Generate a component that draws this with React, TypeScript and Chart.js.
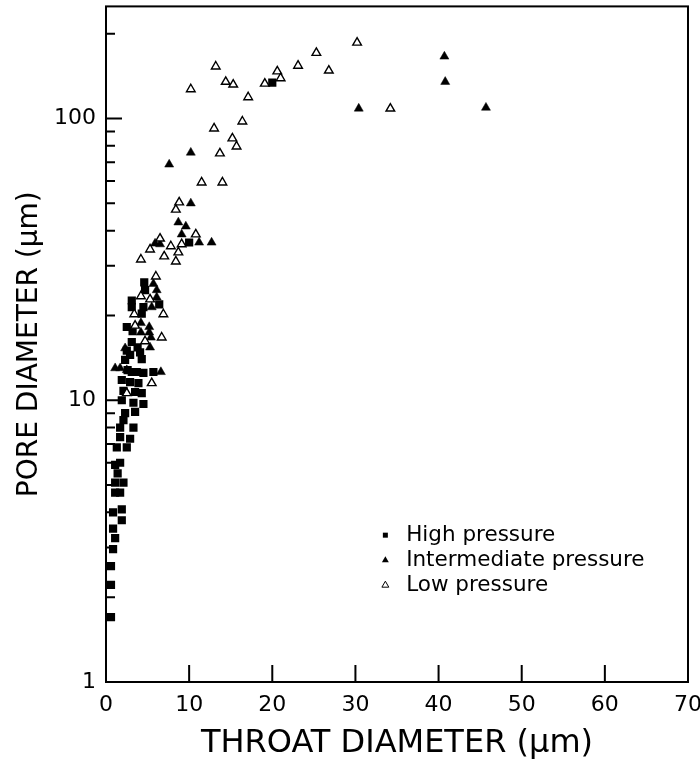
import React, { useEffect, useRef } from 'react';
import { Chart, registerables } from 'chart.js';

Chart.register(...registerables);

// High pressure (filled squares)
const highX = [20.0, 10.0, 4.6, 4.7, 3.1, 3.1, 4.5, 6.4, 4.3, 2.5, 3.2, 3.1, 3.8, 4.1, 2.9, 4.3, 2.3, 2.5, 3.1, 4.5, 5.7, 2.6, 3.7, 1.9, 2.9, 3.9, 2.1, 3.5, 4.3, 1.9, 3.3, 4.5, 2.3, 3.5, 2.1, 1.7, 3.3, 1.7, 2.9, 1.3, 2.5, 1.7, 1.1, 1.4, 2.1, 1.1, 1.7, 1.1, 0.85, 1.9, 1.9, 0.85, 1.1, 0.85, 0.6, 0.6, 0.6];
const highY = [134, 36.3, 26.2, 24.6, 22.6, 21.4, 21.4, 21.9, 20.3, 18.2, 17.6, 16.1, 15.4, 14.8, 14.5, 14.0, 13.9, 15.0, 12.6, 12.5, 12.6, 12.8, 12.6, 11.8, 11.6, 11.5, 10.8, 10.7, 10.6, 10.0, 9.8, 9.7, 9.0, 9.1, 8.5, 8.0, 8.0, 7.4, 7.3, 6.8, 6.8, 6.0, 5.9, 5.5, 5.1, 5.1, 4.7, 4.7, 4.0, 4.1, 3.75, 3.5, 3.24, 2.96, 2.58, 2.21, 1.7];

// Intermediate pressure (filled triangles)
const interX = [40.7, 40.8, 30.4, 45.7, 10.2, 7.6, 10.2, 8.7, 9.6, 9.1, 5.9, 6.5, 11.2, 12.7, 5.7, 6.1, 6.1, 5.5, 4.2, 5.2, 5.2, 5.4, 5.3, 2.3, 1.1, 1.7, 2.5, 6.6, 4.2];
const interY = [166, 135, 108.5, 109.3, 75.7, 68.7, 50.0, 42.8, 41.4, 38.8, 36.0, 35.8, 36.3, 36.3, 25.9, 24.6, 23.2, 21.4, 18.8, 18.2, 17.4, 16.7, 15.4, 15.3, 13.0, 13.0, 12.8, 12.6, 17.4];

// Low pressure (open triangles)
const lowX = [13.2, 14.4, 15.3, 10.2, 17.1, 19.1, 20.6, 21.0, 23.1, 25.3, 26.8, 30.2, 34.2, 16.4, 13.0, 15.2, 15.7, 13.7, 11.5, 14.0, 8.8, 8.4, 10.8, 6.5, 5.3, 7.8, 9.1, 8.7, 7.0, 8.4, 4.2, 6.0, 4.2, 5.3, 3.4, 6.9, 3.5, 4.7, 6.7, 5.5, 2.5];
const lowY = [153, 135, 132, 127, 119, 133, 147, 139, 154, 171, 148, 186, 108.5, 97.6, 92.2, 85, 79.6, 75.2, 59.3, 59.3, 50.4, 47.5, 38.8, 37.5, 34.3, 35.2, 35.8, 33.5, 32.4, 31.1, 31.6, 27.5, 23.4, 22.8, 20.2, 20.2, 18.4, 16.2, 16.7, 11.5, 10.6];

const xTickValues = [0, 10, 20, 30, 40, 50, 60, 70];
const yTickValues = [1, 2, 3, 4, 5, 6, 7, 8, 9, 10, 20, 30, 40, 50, 60, 70, 80, 90, 100, 200];
const yLabelValues = [1, 10, 100];
const legendLabels = ['High pressure', 'Intermediate pressure', 'Low pressure'];

const FONT = '"DejaVu Sans", "Liberation Sans", sans-serif';

function pts(xs: number[], ys: number[]) {
  return xs.map((x, i) => ({ x, y: ys[i] }));
}

function tri(ctx: CanvasRenderingContext2D, cx: number, cy: number, r: number) {
  ctx.beginPath();
  ctx.moveTo(cx, cy - r);
  ctx.lineTo(cx + r * 0.866, cy + r * 0.5);
  ctx.lineTo(cx - r * 0.866, cy + r * 0.5);
  ctx.closePath();
}

const frameTicks = {
  id: 'frameTicks',
  afterDraw(chart: any) {
    const { ctx, chartArea, scales } = chart;
    const { left, right, top, bottom } = chartArea;
    const x = scales.x;
    const y = scales.y;
    ctx.save();
    ctx.strokeStyle = '#000';
    ctx.lineWidth = 2;
    ctx.strokeRect(left, top, right - left, bottom - top);
    ctx.beginPath();
    for (const v of xTickValues) {
      if (v === xTickValues[0] || v === xTickValues[xTickValues.length - 1]) continue;
      const px = x.getPixelForValue(v);
      ctx.moveTo(px, bottom);
      ctx.lineTo(px, bottom - 17);
    }
    for (const v of yTickValues) {
      const py = y.getPixelForValue(v);
      const len = yLabelValues.includes(v) ? 16 : 9;
      ctx.moveTo(left, py);
      ctx.lineTo(left + len, py);
    }
    ctx.stroke();

    // legend inside plot area
    const mx = x.getPixelForValue(33.6);
    const tx = x.getPixelForValue(36.1);
    const baseY = y.getPixelForValue(3.32);
    const step = 25;
    ctx.font = '21.5px ' + FONT;
    ctx.fillStyle = '#000';
    ctx.textBaseline = 'middle';
    ctx.textAlign = 'left';
    legendLabels.forEach((lab, i) => {
      const cy = baseY + i * step;
      if (i === 0) {
        ctx.fillRect(mx - 2.5, cy - 2.5, 5, 5);
      } else if (i === 1) {
        tri(ctx, mx, cy, 4);
        ctx.fill();
      } else {
        tri(ctx, mx, cy, 4);
        ctx.lineWidth = 1;
        ctx.stroke();
      }
      ctx.fillText(lab, tx, cy);
    });
    ctx.restore();
  },
};

export default function App() {
  const ref = useRef<HTMLCanvasElement | null>(null);
  useEffect(() => {
    if (!ref.current) return;
    const chart = new Chart(ref.current, {
      type: 'scatter',
      data: {
        datasets: [
          {
            label: legendLabels[2],
            data: pts(lowX, lowY),
            pointStyle: 'triangle',
            pointRadius: 5,
            backgroundColor: '#fff',
            borderColor: '#000',
            borderWidth: 1.4,
          },
          {
            label: legendLabels[0],
            data: pts(highX, highY),
            pointStyle: 'rect',
            pointRadius: 5.8,
            backgroundColor: '#000',
            borderColor: '#000',
            borderWidth: 0,
          },
          {
            label: legendLabels[1],
            data: pts(interX, interY),
            pointStyle: 'triangle',
            pointRadius: 5.2,
            backgroundColor: '#000',
            borderColor: '#000',
            borderWidth: 0.5,
          },
        ],
      },
      options: {
        responsive: false,
        animation: false,
        layout: { padding: { left: 0, right: 12, top: 5, bottom: 0 } },
        plugins: {
          legend: { display: false },
          tooltip: { enabled: false },
        },
        scales: {
          x: {
            type: 'linear',
            min: 0,
            max: 70,
            afterBuildTicks: (s: any) => {
              s.ticks = xTickValues.map((v) => ({ value: v }));
            },
            afterFit: (s: any) => {
              s.height = 81;
              s.paddingLeft = 0;
              s.paddingRight = 0;
            },
            grid: { display: false, drawTicks: false },
            border: { display: false },
            ticks: {
              autoSkip: false,
              maxRotation: 0,
              padding: 10,
              color: '#000',
              font: { family: FONT, size: 22 },
            },
            title: {
              display: true,
              text: 'THROAT DIAMETER (μm)',
              color: '#000',
              font: { family: FONT, size: 32 },
              padding: { top: 0, bottom: 0 },
            },
          },
          y: {
            type: 'logarithmic',
            min: 1,
            max: 250,
            afterBuildTicks: (s: any) => {
              s.ticks = yTickValues.map((v) => ({ value: v }));
            },
            afterFit: (s: any) => {
              s.width = 106;
              s.paddingTop = 0;
              s.paddingBottom = 0;
            },
            grid: { display: false, drawTicks: false },
            border: { display: false },
            ticks: {
              autoSkip: false,
              padding: 10,
              color: '#000',
              font: { family: FONT, size: 22 },
              callback: (v: any) => (yLabelValues.includes(Number(v)) ? String(v) : ''),
            },
            title: {
              display: true,
              text: 'PORE DIAMETER (μm)',
              color: '#000',
              font: { family: FONT, size: 28 },
              padding: { top: 13, bottom: 0 },
            },
          },
        },
      },
      plugins: [frameTicks],
    });
    return () => chart.destroy();
  }, []);

  return (
    <div style={{ position: 'absolute', left: 0, top: 0, width: 700, height: 763, background: '#fff' }}>
      <canvas ref={ref} width={700} height={763} style={{ display: 'block' }} />
    </div>
  );
}
